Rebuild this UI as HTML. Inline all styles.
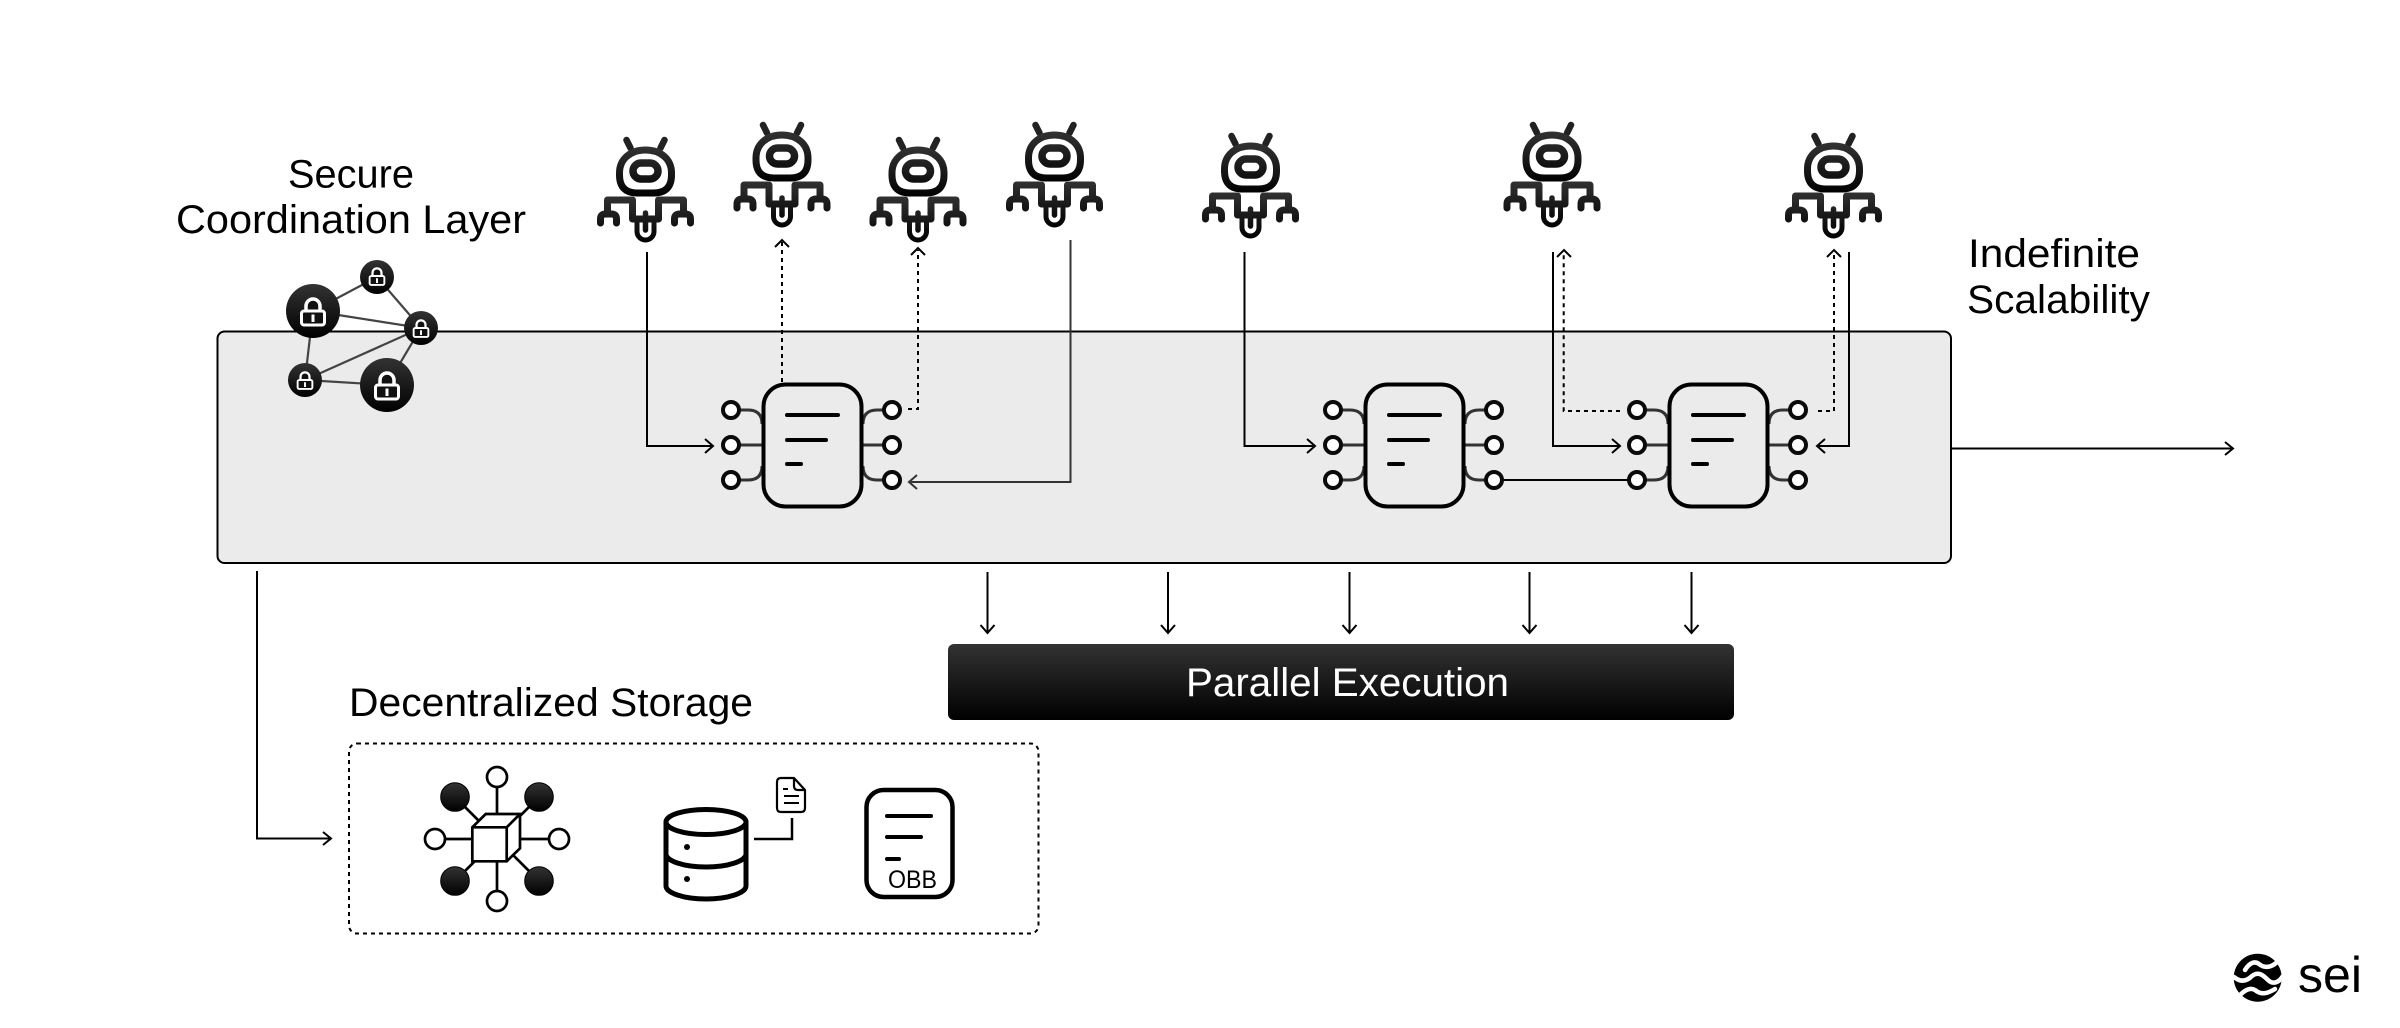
<!DOCTYPE html>
<html><head><meta charset="utf-8"><style>
html,body{margin:0;padding:0;background:#fff;width:2400px;height:1028px;overflow:hidden}
svg{display:block}
text{font-family:"Liberation Sans",sans-serif;fill:#000}
</style></head><body>
<svg xmlns="http://www.w3.org/2000/svg" width="2400" height="1028" viewBox="0 0 2400 1028">
<defs>
<linearGradient id="bar" x1="0" y1="0" x2="0" y2="1"><stop offset="0" stop-color="#333"/><stop offset="1" stop-color="#000"/></linearGradient>
<linearGradient id="rh" gradientUnits="userSpaceOnUse" x1="0" y1="28" x2="0" y2="78"><stop offset="0" stop-color="#333"/><stop offset="1" stop-color="#000"/></linearGradient>
<linearGradient id="rb" gradientUnits="userSpaceOnUse" x1="0" y1="76" x2="0" y2="124"><stop offset="0" stop-color="#333"/><stop offset="1" stop-color="#000"/></linearGradient>
<g id="robot" fill="none" stroke-linecap="round" stroke-linejoin="round">
<path d="M-19 21 L-15 29 M19 21 L15 29" stroke="#222" stroke-width="6.5"/>
<path d="M-26 54 C-26 40 -15 31 0 31 C15 31 26 40 26 54 V56 Q26 74 8 74 H-8 Q-26 74 -26 56 Z" stroke="url(#rh)" stroke-width="7"/>
<rect x="-12.5" y="44" width="25" height="16" rx="8" stroke="url(#rh)" stroke-width="7.5"/>
<path d="M-38 95 V81 H-13 V100 H13 V81 H38 V95 M-45 104 V100 Q-45 95 -40 95 H-34 Q-29 95 -29 100 V104 M45 104 V100 Q45 95 40 95 H34 Q29 95 29 100 V104" stroke="url(#rb)" stroke-width="7"/>
<path d="M0 94 V111" stroke="url(#rb)" stroke-width="5.5"/>
<path d="M-8.5 103 V112.5 a8.5 8.5 0 0 0 17 0 V103" stroke="url(#rb)" stroke-width="5"/>
</g>
<g id="chip">
<path d="M740 410 H748 Q762 410 762 424 M740 445 H762 M740 480 H748 Q762 480 762 466 M863 424 Q863 410 877 410 H884 M863 445 H884 M863 466 Q863 480 877 480 H884" fill="none" stroke="#333" stroke-width="3"/>
<rect x="763.5" y="384.5" width="98" height="122" rx="22" fill="#ebebeb" stroke="#000" stroke-width="4"/>
<path d="M787 415 H838 M787 440 H826 M787 464 H801" fill="none" stroke="#000" stroke-width="4" stroke-linecap="round"/>
<g fill="#fff" stroke="#0a0a0a" stroke-width="4">
<circle cx="731" cy="410" r="8"/><circle cx="731" cy="445" r="8"/><circle cx="731" cy="480" r="8"/>
<circle cx="892" cy="410" r="8"/><circle cx="892" cy="445" r="8"/><circle cx="892" cy="480" r="8"/>
</g>
</g>
<g id="lock">
<path d="M-7 2 V-5 a7 7 0 0 1 14 0 V2 Z" fill="#111" stroke="#fff" stroke-width="3.5"/>
<rect x="-11.5" y="0" width="23" height="14" rx="2.5" fill="#111" stroke="#fff" stroke-width="3"/>
<rect x="-1.5" y="3.5" width="3" height="7.5" fill="#fff"/>
</g>
</defs>

<rect x="217.5" y="331.5" width="1733.5" height="231.5" rx="7" fill="#ebebeb" stroke="#000" stroke-width="2"/>

<!-- lock network -->
<g stroke="#444" stroke-width="2.2" fill="none">
<path d="M313 311 L377 277 L421 328 L313 311 L305 380 L421 328 L387 385 L305 380"/>
</g>
<g fill="url(#bar)">
<circle cx="313" cy="311" r="27"/><circle cx="387" cy="385" r="27"/>
<circle cx="377" cy="277" r="17"/><circle cx="421" cy="328" r="17"/><circle cx="305" cy="380" r="17"/>
</g>
<use href="#lock" transform="translate(313 311)"/>
<use href="#lock" transform="translate(387 385)"/>
<use href="#lock" transform="translate(377 276) scale(.64)"/>
<use href="#lock" transform="translate(421 328) scale(.64)"/>
<use href="#lock" transform="translate(305 380) scale(.64)"/>

<!-- connectors -->
<g fill="none" stroke="#000" stroke-width="2">
<path d="M647 252 V446 H712 M705 439 L713 446 L705 453"/>
<path d="M782 382 V242" stroke-dasharray="4 4"/><path d="M775 247 L782 240 L789 247"/>
<path d="M908 409 H918 V250" stroke-dasharray="4 4"/><path d="M911 255 L918 248 L925 255"/>
<path d="M1070.5 240 V482 H911 M917 475 L909 482 L917 489" stroke="#333"/>
<path d="M1244.5 252 V446 H1314 M1307 439 L1315 446 L1307 453"/>
<path d="M1500 480 H1628"/>
<path d="M1553 252 V446 H1619 M1612 439 L1620 446 L1612 453"/>
<path d="M1620 411 H1563.7 V252" stroke-dasharray="4 4"/><path d="M1557 257 L1564 250 L1571 257"/>
<path d="M1818 411 H1834 V252" stroke-dasharray="4 4"/><path d="M1827 257 L1834 250 L1841 257"/>
<path d="M1849 252 V446 H1818 M1825 439 L1817 446 L1825 453"/>
<path d="M1952 448.5 H2232 M2225 442 L2233 448.5 L2225 455"/>
<path d="M987.5 572 V632 M980.5 625 L987.5 633 L994.5 625"/>
<path d="M1168 572 V632 M1161 625 L1168 633 L1175 625"/>
<path d="M1349.5 572 V632 M1342.5 625 L1349.5 633 L1356.5 625"/>
<path d="M1529.5 572 V632 M1522.5 625 L1529.5 633 L1536.5 625"/>
<path d="M1691.5 572 V632 M1684.5 625 L1691.5 633 L1698.5 625"/>
<path d="M257 571 V838.5 H330 M323 832 L331 838.5 L323 845"/>
</g>

<!-- chips -->
<use href="#chip"/>
<use href="#chip" transform="translate(602 0)"/>
<use href="#chip" transform="translate(906 0)"/>

<!-- robots -->
<use href="#robot" transform="translate(645.5 119)"/>
<use href="#robot" transform="translate(782 104)"/>
<use href="#robot" transform="translate(918 119)"/>
<use href="#robot" transform="translate(1054.5 104)"/>
<use href="#robot" transform="translate(1250.5 115)"/>
<use href="#robot" transform="translate(1552 104)"/>
<use href="#robot" transform="translate(1833.5 115)"/>

<!-- labels -->
<text x="288" y="187.5" font-size="40" textLength="126" lengthAdjust="spacingAndGlyphs">Secure</text>
<text x="176" y="233" font-size="40" textLength="350" lengthAdjust="spacingAndGlyphs">Coordination Layer</text>
<text x="1968" y="267" font-size="40" textLength="172" lengthAdjust="spacingAndGlyphs">Indefinite</text>
<text x="1967" y="313" font-size="40" textLength="183" lengthAdjust="spacingAndGlyphs">Scalability</text>
<text x="349" y="716" font-size="40" textLength="404" lengthAdjust="spacingAndGlyphs">Decentralized Storage</text>

<!-- parallel bar -->
<rect x="948" y="644" width="786" height="76" rx="6" fill="url(#bar)"/>
<text x="1186" y="696" font-size="40" textLength="323" lengthAdjust="spacingAndGlyphs" style="fill:#fff">Parallel Execution</text>

<!-- storage box -->
<rect x="349" y="743.5" width="689.5" height="190" rx="8" fill="none" stroke="#000" stroke-width="2" stroke-dasharray="4 4"/>

<!-- hub -->
<g stroke="#000" stroke-width="2.7" fill="none">
<path d="M497 777 V901 M435 839 H559 M455 797 L539 881 M539 797 L455 881"/>
<path d="M472.3 827.3 L485.7 814 H520 V848.3 L506.7 861.3 H472.3 Z" fill="#fff"/>
<path d="M472.3 827.3 H506.7 V861.3 M506.7 827.3 L520 814"/>
<g fill="#fff">
<circle cx="497" cy="777" r="10"/><circle cx="497" cy="901" r="10"/>
<circle cx="435" cy="839" r="10"/><circle cx="559" cy="839" r="10"/>
</g>
</g>
<g fill="url(#bar)" stroke="#000" stroke-width="1">
<circle cx="455" cy="797" r="14.3"/><circle cx="539" cy="797" r="14.3"/>
<circle cx="455" cy="881" r="14.3"/><circle cx="539" cy="881" r="14.3"/>
</g>

<!-- database -->
<g fill="none" stroke="#000" stroke-width="5" stroke-linecap="round">
<ellipse cx="706" cy="822" rx="40" ry="12.5"/>
<path d="M666 822 V886 C666 893 684 899 706 899 C728 899 746 893 746 886 V822"/>
<path d="M666 854 C666 861 684 867 706 867 C728 867 746 861 746 854"/>
</g>
<circle cx="687" cy="847" r="3" fill="#000"/><circle cx="687" cy="879" r="3" fill="#000"/>
<path d="M754 839 H792 V818" fill="none" stroke="#000" stroke-width="2.5"/>
<!-- file -->
<g fill="none" stroke="#000" stroke-width="2.2" stroke-linejoin="round">
<path d="M781 778 H794 L805 790 V808 Q805 812 801 812 H781 Q777 812 777 808 V782 Q777 778 781 778 Z"/>
<path d="M794 778 V786 Q794 790 798 790 H805"/>
<path d="M783 789 H788 M784 796 H799 M784 803 H799" stroke-width="2"/>
</g>

<!-- OBB doc -->
<rect x="866.5" y="790" width="86" height="107" rx="17" fill="#fff" stroke="#000" stroke-width="4.5"/>
<path d="M887 816 H931 M887 837 H921 M887 859 H899" stroke="#000" stroke-width="4" stroke-linecap="round" fill="none"/>
<text x="888" y="888" font-size="25" textLength="49" lengthAdjust="spacingAndGlyphs">OBB</text>

<!-- sei logo -->
<circle cx="2257.7" cy="977.7" r="24" fill="#000"/>
<g fill="none" stroke="#fff" stroke-width="4.5" stroke-linecap="round">
<path d="M2245 970 C2250 962 2255 961 2259 964 C2264 968 2270 968 2276 963"/>
<path d="M2234 977 C2240 982 2246 982 2252 976 C2258 971 2263 975 2268 980 C2272 984 2278 984 2283 976"/>
<path d="M2240 995 C2245 990 2250 987 2255 990 C2261 995 2267 994 2275 989"/>
</g>
<text x="2298" y="992" font-size="50" textLength="64" lengthAdjust="spacingAndGlyphs">sei</text>
</svg>
</body></html>
